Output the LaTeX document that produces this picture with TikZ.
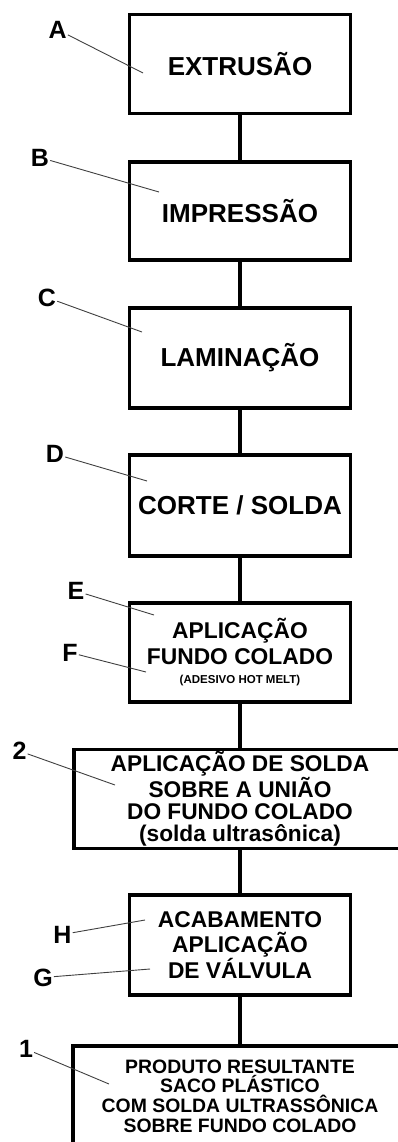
\documentclass[tikz,border=0pt]{standalone}
\usepackage{fontspec}
\setmainfont{Liberation Sans}
\begin{document}
\begin{tikzpicture}[x=1pt,y=-1pt,
  box/.style={draw, line width=3.3pt, minimum width=221pt, inner sep=0pt, align=center},
  big/.style={font=\bfseries\fontsize{26}{30}\selectfont},
  conn/.style={line width=4.5pt},
  lbl/.style={font=\bfseries\fontsize{25}{28}\selectfont, inner sep=1pt},
  lead/.style={line width=0.9pt, draw=black!75}]
\useasboundingbox (0,0) rectangle (398,1142);
\clip (0,0) rectangle (398,1142);
% boxes
\node[box,big,minimum height=99pt] (bA) at (240,64) {EXTRUSÃO};
\node[box,big,minimum height=98pt] (bB) at (240,211) {IMPRESSÃO};
\node[box,big,minimum height=100pt] (bC) at (240,358) {LAMINAÇÃO};
\node[box,big,minimum height=101pt] (bD) at (240,505.5) {CORTE / SOLDA};
\node[box,minimum height=99pt,font=\bfseries\fontsize{22.8}{26}\selectfont] (bE) at (240,652.5)
  {APLICAÇÃO\\FUNDO COLADO\\[-7pt]{\fontsize{11.5}{13}\selectfont(ADESIVO HOT MELT)}};
\node[box,minimum width=332pt,minimum height=98.5pt,font=\bfseries\fontsize{22.7}{22}\selectfont] (b2) at (240,799)
  {APLICAÇÃO DE SOLDA\\SOBRE A UNIÃO\\DO FUNDO COLADO\\(solda ultrasônica)};
\node[box,minimum height=100pt,font=\bfseries\fontsize{22.8}{24.5}\selectfont] (bH) at (240,945)
  {ACABAMENTO\\APLICAÇÃO\\DE VÁLVULA};
\node[box,minimum width=334pt,minimum height=100pt,font=\bfseries\fontsize{19.4}{19.6}\selectfont] (b1) at (240,1096)
  {PRODUTO RESULTANTE\\SACO PLÁSTICO\\COM SOLDA ULTRASSÔNICA\\SOBRE FUNDO COLADO};
% connectors
\draw[conn] (bA) -- (bB);
\draw[conn] (bB) -- (bC);
\draw[conn] (bC) -- (bD);
\draw[conn] (bD) -- (bE);
\draw[conn] (bE) -- (b2);
\draw[conn] (b2) -- (bH);
\draw[conn] (bH) -- (b1);
% labels
\node[lbl] (lA) at (57.7,29.7) {A};
\node[lbl] (lB) at (40,157.5) {B};
\node[lbl] (lC) at (47,297.5) {C};
\node[lbl] (lD) at (55,454) {D};
\node[lbl] (lE) at (76,591) {E};
\node[lbl] (lF) at (70,652.5) {F};
\node[lbl] (l2) at (19.5,751) {2};
\node[lbl] (lH) at (62.5,934.5) {H};
\node[lbl] (lG) at (43,977.5) {G};
\node[lbl] (l1) at (26,1049) {1};
\coordinate (pA) at (143,73);
\coordinate (pB) at (159,192);
\coordinate (pC) at (142,332);
\coordinate (pD) at (147,481);
\coordinate (pE) at (154,615);
\coordinate (pF) at (146,672);
\coordinate (p2) at (115,785);
\coordinate (pH) at (145,920);
\coordinate (pG) at (150,969);
\coordinate (p1) at (109,1084);
\draw[lead] (lA) -- (pA);
\draw[lead] (lB) -- (pB);
\draw[lead] (lC) -- (pC);
\draw[lead] (lD) -- (pD);
\draw[lead] (lE) -- (pE);
\draw[lead] (lF) -- (pF);
\draw[lead] (l2) -- (p2);
\draw[lead] (lH) -- (pH);
\draw[lead] (lG) -- (pG);
\draw[lead] (l1) -- (p1);
\end{tikzpicture}
\end{document}
